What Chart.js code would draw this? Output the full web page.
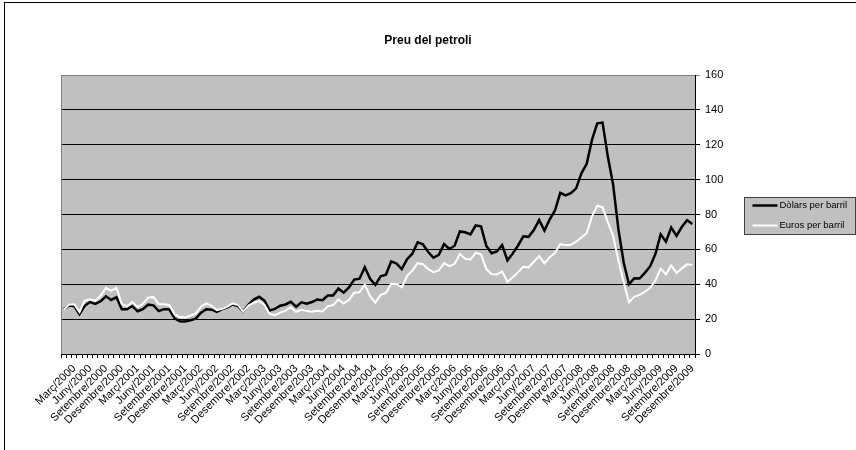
<!DOCTYPE html>
<html>
<head>
<meta charset="utf-8">
<script src="https://cdn.jsdelivr.net/npm/chart.js@4"></script>
<style>
  html, body { margin: 0; padding: 0; background: #fff; }
  #wrap { width: 856px; height: 450px; }
</style>
</head>
<body>
<div id="wrap"><canvas id="chart" width="856" height="450"></canvas></div>
<script>
// Mesos i anys de l'eix de categories
const mesos = ['Gener', 'Febrer', 'Març', 'Abril', 'Maig', 'Juny', 'Juliol', 'Agost', 'Setembre', 'Octubre', 'Novembre', 'Desembre'];
const anys = [2000, 2001, 2002, 2003, 2004, 2005, 2006, 2007, 2008, 2009];

// Dòlars per barril (mensual, gener 2000 - desembre 2009)
const dolars = [
  25.5, 27.8, 27.5, 22.8, 27.7, 29.8, 28.7, 30.2, 33.1, 31.0, 32.6, 25.7,
  25.6, 27.5, 24.5, 25.7, 28.3, 27.9, 24.6, 25.7, 25.6, 20.5, 18.8, 18.7,
  19.4, 20.3, 23.7, 25.7, 25.4, 24.1, 25.7, 26.7, 28.4, 27.5, 24.3, 28.3,
  31.2, 32.8, 30.6, 25.0, 25.9, 27.7, 28.4, 29.9, 27.1, 29.6, 28.8, 29.8,
  31.3, 30.9, 33.6, 33.6, 37.6, 35.2, 38.2, 42.7, 43.2, 49.8, 43.1, 39.6,
  44.5, 45.5, 53.1, 51.9, 48.7, 54.4, 57.5, 64.0, 62.9, 58.5, 55.2, 56.9,
  63.0, 60.2, 62.1, 70.3, 69.8, 68.6, 73.7, 73.2, 62.0, 57.8, 58.8, 62.5,
  53.7, 57.6, 62.1, 67.5, 67.2, 71.1, 76.9, 70.8, 77.2, 82.3, 92.4, 90.9,
  92.2, 95.0, 103.6, 109.1, 122.8, 132.3, 132.7, 113.2, 97.2, 71.6, 52.5, 40.0,
  43.4, 43.3, 46.5, 50.2, 57.3, 68.6, 64.4, 72.5, 67.7, 72.8, 76.7, 74.5
];

// Euros per barril
const euros = [
  25.2, 28.3, 28.5, 24.0, 30.6, 31.4, 30.5, 33.4, 38.0, 36.2, 38.0, 28.6,
  27.3, 29.8, 26.9, 28.8, 32.4, 32.6, 28.6, 28.5, 28.1, 22.7, 21.2, 21.0,
  22.0, 23.3, 27.1, 29.0, 27.6, 25.2, 25.9, 27.2, 29.0, 28.1, 24.3, 27.8,
  29.4, 30.4, 28.3, 23.0, 22.3, 23.7, 24.9, 26.8, 24.2, 25.3, 24.6, 24.3,
  24.8, 24.4, 27.4, 28.0, 31.3, 29.0, 31.1, 35.1, 35.4, 39.9, 33.2, 29.5,
  33.9, 35.0, 40.3, 40.1, 38.3, 44.7, 47.8, 52.1, 51.5, 48.7, 46.9, 47.9,
  52.1, 50.4, 51.6, 57.3, 54.6, 54.2, 58.1, 57.2, 48.7, 45.8, 45.6, 47.3,
  41.3, 44.0, 46.9, 50.0, 49.7, 52.9, 56.1, 52.0, 55.5, 57.9, 63.0, 62.4,
  62.6, 64.4, 66.8, 69.3, 78.9, 85.0, 84.2, 75.6, 67.7, 53.7, 41.2, 29.7,
  32.8, 33.9, 35.7, 38.0, 42.0, 49.0, 45.7, 50.8, 46.5, 49.1, 51.4, 51.0
];

const etiquetes = [];
anys.forEach(a => mesos.forEach(m => etiquetes.push(m + '/' + a)));

const FONT = "Arial, 'Liberation Sans', sans-serif";

// Fons, marc, títol i llegenda a l'estil Excel
const decorat = {
  id: 'decorat',
  beforeDraw(chart) {
    const { ctx, chartArea: a } = chart;
    ctx.save();
    ctx.fillStyle = '#fff';
    ctx.fillRect(0, 0, chart.width, chart.height);
    ctx.fillStyle = '#c0c0c0';
    ctx.fillRect(a.left, a.top, a.right - a.left, a.bottom - a.top);
    ctx.strokeStyle = '#000';
    ctx.lineWidth = 1;
    ctx.strokeRect(4.5, 2.5, 900, 500);
    ctx.restore();
  },
  afterDraw(chart) {
    const { ctx, chartArea: a } = chart;
    ctx.save();
    // vores superior i esquerra del gràfic
    ctx.strokeStyle = '#808080';
    ctx.lineWidth = 1;
    ctx.beginPath();
    ctx.moveTo(a.left + 0.5, a.bottom);
    ctx.lineTo(a.left + 0.5, a.top + 0.5);
    ctx.lineTo(a.right, a.top + 0.5);
    ctx.stroke();

    // títol
    ctx.fillStyle = '#000';
    ctx.font = 'bold 12px ' + FONT;
    ctx.textAlign = 'center';
    ctx.textBaseline = 'middle';
    ctx.fillText('Preu del petroli', 428, 41);

    // llegenda
    const bx = 744.5, by = 197.5, bw = 111, bh = 37;
    ctx.fillStyle = '#c0c0c0';
    ctx.fillRect(bx, by, bw, bh);
    ctx.strokeStyle = '#404040';
    ctx.strokeRect(bx, by, bw, bh);
    ctx.font = '9.5px ' + FONT;
    ctx.textAlign = 'left';
    chart.data.datasets.forEach((ds, i) => {
      const y = by + 8 + i * 20;
      ctx.strokeStyle = ds.borderColor;
      ctx.lineWidth = ds.borderWidth;
      ctx.beginPath();
      ctx.moveTo(bx + 8, y);
      ctx.lineTo(bx + 33, y);
      ctx.stroke();
      ctx.fillStyle = '#000';
      ctx.fillText(ds.label, bx + 35, y);
    });
    ctx.restore();
  }
};

new Chart(document.getElementById('chart'), {
  type: 'line',
  data: {
    labels: etiquetes,
    datasets: [
      {
        label: 'Dòlars per barril',
        data: dolars,
        borderColor: '#000',
        borderWidth: 2.5,
        pointRadius: 0,
        tension: 0,
        order: 1
      },
      {
        label: 'Euros per barril',
        data: euros,
        borderColor: '#fff',
        borderWidth: 2,
        pointRadius: 0,
        tension: 0,
        order: 0
      }
    ]
  },
  options: {
    responsive: false,
    animation: false,
    layout: { padding: { left: 61, right: 121, top: 75, bottom: 0 } },
    plugins: {
      legend: { display: false },
      title: { display: false },
      tooltip: { enabled: false }
    },
    scales: {
      x: {
        offset: true,
        afterFit(scale) { scale.height = 96; },
        grid: {
          offset: true,
          drawOnChartArea: false,
          drawTicks: true,
          tickLength: 4,
          color: '#000'
        },
        border: { color: '#000', width: 1 },
        ticks: {
          autoSkip: false,
          minRotation: 45,
          maxRotation: 45,
          padding: 4,
          color: '#000',
          font: { family: FONT, size: 11 },
          callback(val, i) { return i % 3 === 2 ? this.getLabelForValue(val) : ''; }
        }
      },
      y: {
        position: 'right',
        min: 0,
        max: 160,
        afterFit(scale) { scale.width = 40; },
        grid: {
          color: ctx => ctx.tick && ctx.tick.value === 160 ? '#808080' : '#000',
          lineWidth: 1,
          drawTicks: true,
          tickLength: 5
        },
        border: { color: '#000', width: 1 },
        ticks: {
          stepSize: 20,
          padding: 5,
          color: '#000',
          font: { family: FONT, size: 11 }
        }
      }
    }
  },
  plugins: [decorat]
});
</script>
</body>
</html>
